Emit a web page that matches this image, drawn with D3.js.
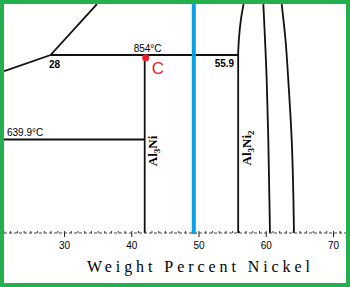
<!DOCTYPE html>
<html>
<head>
<meta charset="utf-8">
<script src="https://cdn.jsdelivr.net/npm/d3@7"></script>
<style>
  body { margin: 0; background: #fff; }
  svg { display: block; }
</style>
</head>
<body>
<div id="chart"></div>
<script>
// phase boundaries, [wt% Ni, temperature C]
var liquidus = [[21.1, 813], [28, 854], [34.9, 983]];
var eutecticLine = [[28, 854], [55.9, 854]];
var lowEutectic = [[20, 639.9], [42, 639.9]];
var al3ni = [[42, 854], [42, 400]];
var al3ni2Left = [[56.7, 983], [56.3, 943], [56.0, 892], [55.9, 854], [55.9, 400]];
var al3ni2Mid = [[59.64, 983], [60.14, 791], [60.38, 639], [60.63, 400]];
var al3ni2Right = [[62.37, 983], [62.94, 892], [63.35, 791], [63.86, 639], [64.2, 400]];
var xTicks = [30, 40, 50, 60, 70];
var blueLine = 49.3;
var pointC = [42.15, 847];

var W = 350, H = 287;
var padL = 4, padR = 346, padT = 4, base = 233;

var x = d3.scaleLinear().domain([30, 70]).range([64, 333]);
var y = d3.scaleLinear().domain([639.9, 854]).range([139.5, 55]);

var svg = d3.select("#chart").append("svg")
  .attr("width", W)
  .attr("height", H);

svg.append("defs").append("clipPath").attr("id", "plotclip")
  .append("rect")
  .attr("x", padL).attr("y", padT)
  .attr("width", padR - padL).attr("height", base - padT);

var plot = svg.append("g").attr("clip-path", "url(#plotclip)");

var line = d3.line().x(function(d) { return x(d[0]); }).y(function(d) { return y(d[1]); });
var curve = d3.line().curve(d3.curveMonotoneY)
  .x(function(d) { return x(d[0]); }).y(function(d) { return y(d[1]); });

[liquidus, eutecticLine, lowEutectic, al3ni].forEach(function(p) {
  plot.append("path").attr("d", line(p))
    .attr("fill", "none").attr("stroke", "#111").attr("stroke-width", 1.8);
});
[al3ni2Left, al3ni2Mid, al3ni2Right].forEach(function(p) {
  plot.append("path").attr("d", curve(p))
    .attr("fill", "none").attr("stroke", "#111").attr("stroke-width", 1.8);
});

// axis: dashed base line, minor ticks every 1%, major every 10%
svg.append("line")
  .attr("x1", padL).attr("x2", padR).attr("y1", base).attr("y2", base)
  .attr("stroke", "#444").attr("stroke-width", 1).attr("stroke-dasharray", "3,2");

var minor = svg.append("g").attr("transform", "translate(0," + base + ")")
  .call(d3.axisTop(x).tickValues(d3.range(21, 72)).tickSize(2).tickFormat(""));
minor.select(".domain").remove();
minor.selectAll("line").attr("stroke", "#333");

var major = svg.append("g").attr("transform", "translate(0," + base + ")")
  .call(d3.axisBottom(x).tickValues(xTicks).tickSize(4).tickPadding(5));
major.select(".domain").remove();
major.selectAll("line").attr("stroke", "#222");
major.selectAll("text")
  .style("font-family", "Liberation Sans, Arial, sans-serif")
  .style("font-size", "10px")
  .attr("fill", "#000");

svg.append("text")
  .attr("x", 87).attr("y", 272)
  .attr("textLength", 223).attr("lengthAdjust", "spacing")
  .style("font-family", "Liberation Serif, serif")
  .style("font-size", "16px")
  .attr("fill", "#000")
  .text("Weight Percent Nickel");

// labels
function label(t, px, py, anchor, size) {
  return svg.append("text").attr("x", px).attr("y", py)
    .attr("text-anchor", anchor)
    .style("font-family", "Liberation Sans, Arial, sans-serif")
    .style("font-size", size + "px")
    .attr("fill", "#000")
    .text(t);
}
label("854°C", x(42) - 11, y(854) - 3, "start", 10);
label("28", x(28) + 4, y(854) + 13, "middle", 10).style("font-weight", "bold");
label("55.9", x(55.9) - 4, y(854) + 12, "end", 10).style("font-weight", "bold");
label("639.9°C", padL + 3, y(639.9) - 4, "start", 10);

function phaseLabel(sub, cx, cy) {
  var t = svg.append("text")
    .attr("transform", "translate(" + cx + "," + cy + ") rotate(-90)")
    .attr("text-anchor", "middle")
    .style("font-family", "Liberation Serif, serif")
    .style("font-size", "13px")
    .style("font-weight", "bold")
    .attr("fill", "#000");
  t.append("tspan").text("Al");
  t.append("tspan").attr("dy", 3).style("font-size", "9px").text("3");
  t.append("tspan").attr("dy", -3).text("Ni");
  if (sub) t.append("tspan").attr("dy", 3).style("font-size", "9px").text(sub);
}
phaseLabel("", x(42) + 12, 151);
phaseLabel("2", x(55.9) + 13, 148);

// blue marker line
svg.append("line")
  .attr("x1", x(blueLine)).attr("x2", x(blueLine))
  .attr("y1", padT).attr("y2", base + 1)
  .attr("stroke", "#0aa0e6").attr("stroke-width", 4);

// point C
svg.append("circle")
  .attr("cx", x(pointC[0])).attr("cy", y(pointC[1]))
  .attr("r", 3.5).attr("fill", "#ee1c24");
svg.append("text")
  .attr("x", x(pointC[0]) + 6).attr("y", y(pointC[1]) + 16)
  .style("font-family", "Liberation Sans, Arial, sans-serif")
  .style("font-size", "17px")
  .attr("fill", "#ee1c24")
  .text("C");

// green frame
svg.append("rect")
  .attr("x", 2).attr("y", 2).attr("width", W - 4).attr("height", H - 4)
  .attr("fill", "none").attr("stroke", "#22b14c").attr("stroke-width", 4);
</script>
</body>
</html>
